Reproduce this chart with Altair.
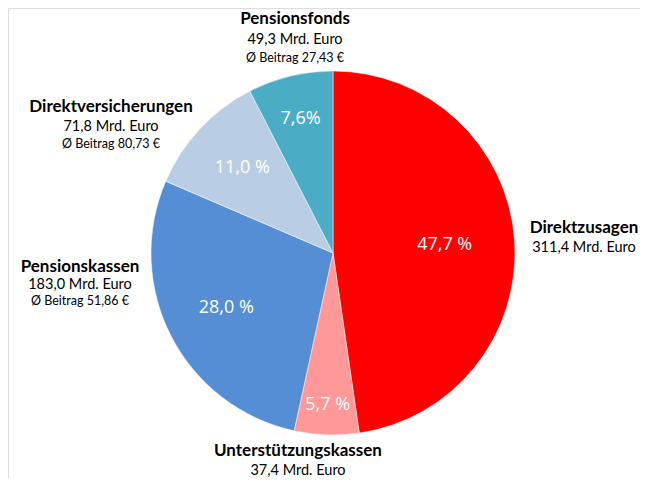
import altair as alt
import pandas as pd
import math

# Data
categories = ["Direktzusagen", "Unterstützungskassen", "Pensionskassen",
              "Direktversicherungen", "Pensionsfonds"]
volumes = [311.4, 37.4, 183.0, 71.8, 49.3]          # Mrd. Euro
pct_labels = ["47,7 %", "5,7 %", "28,0 %", "11,0 %", "7,6%"]
line2 = ["311,4 Mrd. Euro", "37,4 Mrd. Euro", "183,0 Mrd. Euro",
         "71,8 Mrd. Euro", "49,3 Mrd. Euro"]
line3 = ["", "", "Ø Beitrag 51,86 €", "Ø Beitrag 80,73 €", "Ø Beitrag 27,43 €"]
colors = ["#FF0000", "#FF9999", "#558ED5", "#B9CDE5", "#4BACC6"]

# Layout (styling/placement, not data)
pct_radius = [112, 152, 120, 124, 138]
label_x = [584, 298, 80, 111, 295]
label_y = [228, 451, 267, 107, 19]

W, H = 632, 470
CX, CY, R = 325, 245, 182
OFF = 8
TOTAL = sum(volumes)

df = pd.DataFrame({
    "cat": categories, "vol": volumes, "pct": pct_labels, "idx": list(range(5)),
    "pr": pct_radius,
    "l1": categories, "l2": line2, "l3": line3,
    "lx": [v - OFF for v in label_x],
    "ly1": [v - OFF for v in label_y],
})
df["ly2"] = df["ly1"] + 20
df["ly3"] = df["ly1"] + 37
df.loc[df["cat"] == "Pensionsfonds", "ly2"] = df["ly1"] + 21
df.loc[df["cat"] == "Pensionsfonds", "ly3"] = df["ly1"] + 39
df.loc[df["cat"] == "Pensionskassen", "ly2"] = df["ly1"] + 18
df.loc[df["cat"] == "Pensionskassen", "ly3"] = df["ly1"] + 34

base = alt.Chart(df)

color = alt.Color("cat:N", scale=alt.Scale(domain=categories, range=colors), legend=None)

pie = base.mark_arc(outerRadius=R, stroke="white", strokeWidth=0.5).encode(
    theta=alt.Theta("vol:Q", stack=True, scale=alt.Scale(domain=[0, TOTAL], range=[0, 2 * math.pi])),
    order=alt.Order("idx:Q"),
    color=color,
    x=alt.value(CX), y=alt.value(CY),
)

pct = base.transform_window(
    cum="sum(vol)", sort=[alt.SortField("idx")],
    frame=[None, 0],
).transform_calculate(
    mid="datum.cum - datum.vol / 2"
).mark_text(font="Open Sans", fontSize=18, color="white",
            align="center", baseline="middle").encode(
    theta=alt.Theta("mid:Q", stack=None, scale=alt.Scale(domain=[0, TOTAL], range=[0, 2 * math.pi])),
    radius=alt.Radius("pr:Q", scale=None),
    text="pct:N",
    x=alt.value(CX), y=alt.value(CY),
)

t1 = base.mark_text(font="Lato", fontWeight="bold", fontSize=17, color="#000000",
                    align="center", baseline="middle").encode(
    x=alt.X("lx:Q", scale=None), y=alt.Y("ly1:Q", scale=None), text="l1:N")
t2 = base.mark_text(font="Lato", fontSize=14.5, color="#000000",
                    align="center", baseline="middle").encode(
    x=alt.X("lx:Q", scale=None), y=alt.Y("ly2:Q", scale=None), text="l2:N")
t3 = base.mark_text(font="Lato", fontSize=12.5, color="#000000",
                    align="center", baseline="middle").encode(
    x=alt.X("lx:Q", scale=None), y=alt.Y("ly3:Q", scale=None), text="l3:N")

chart = alt.layer(pie, pct, t1, t2, t3).resolve_scale(theta="independent").properties(
    width=W, height=H, padding=0,
    autosize=alt.AutoSizeParams(type="none"),
).configure_view(stroke="transparent", strokeWidth=0).configure(background="transparent")

chart.save("out.html", embed_options={"renderer": "svg", "actions": False})
